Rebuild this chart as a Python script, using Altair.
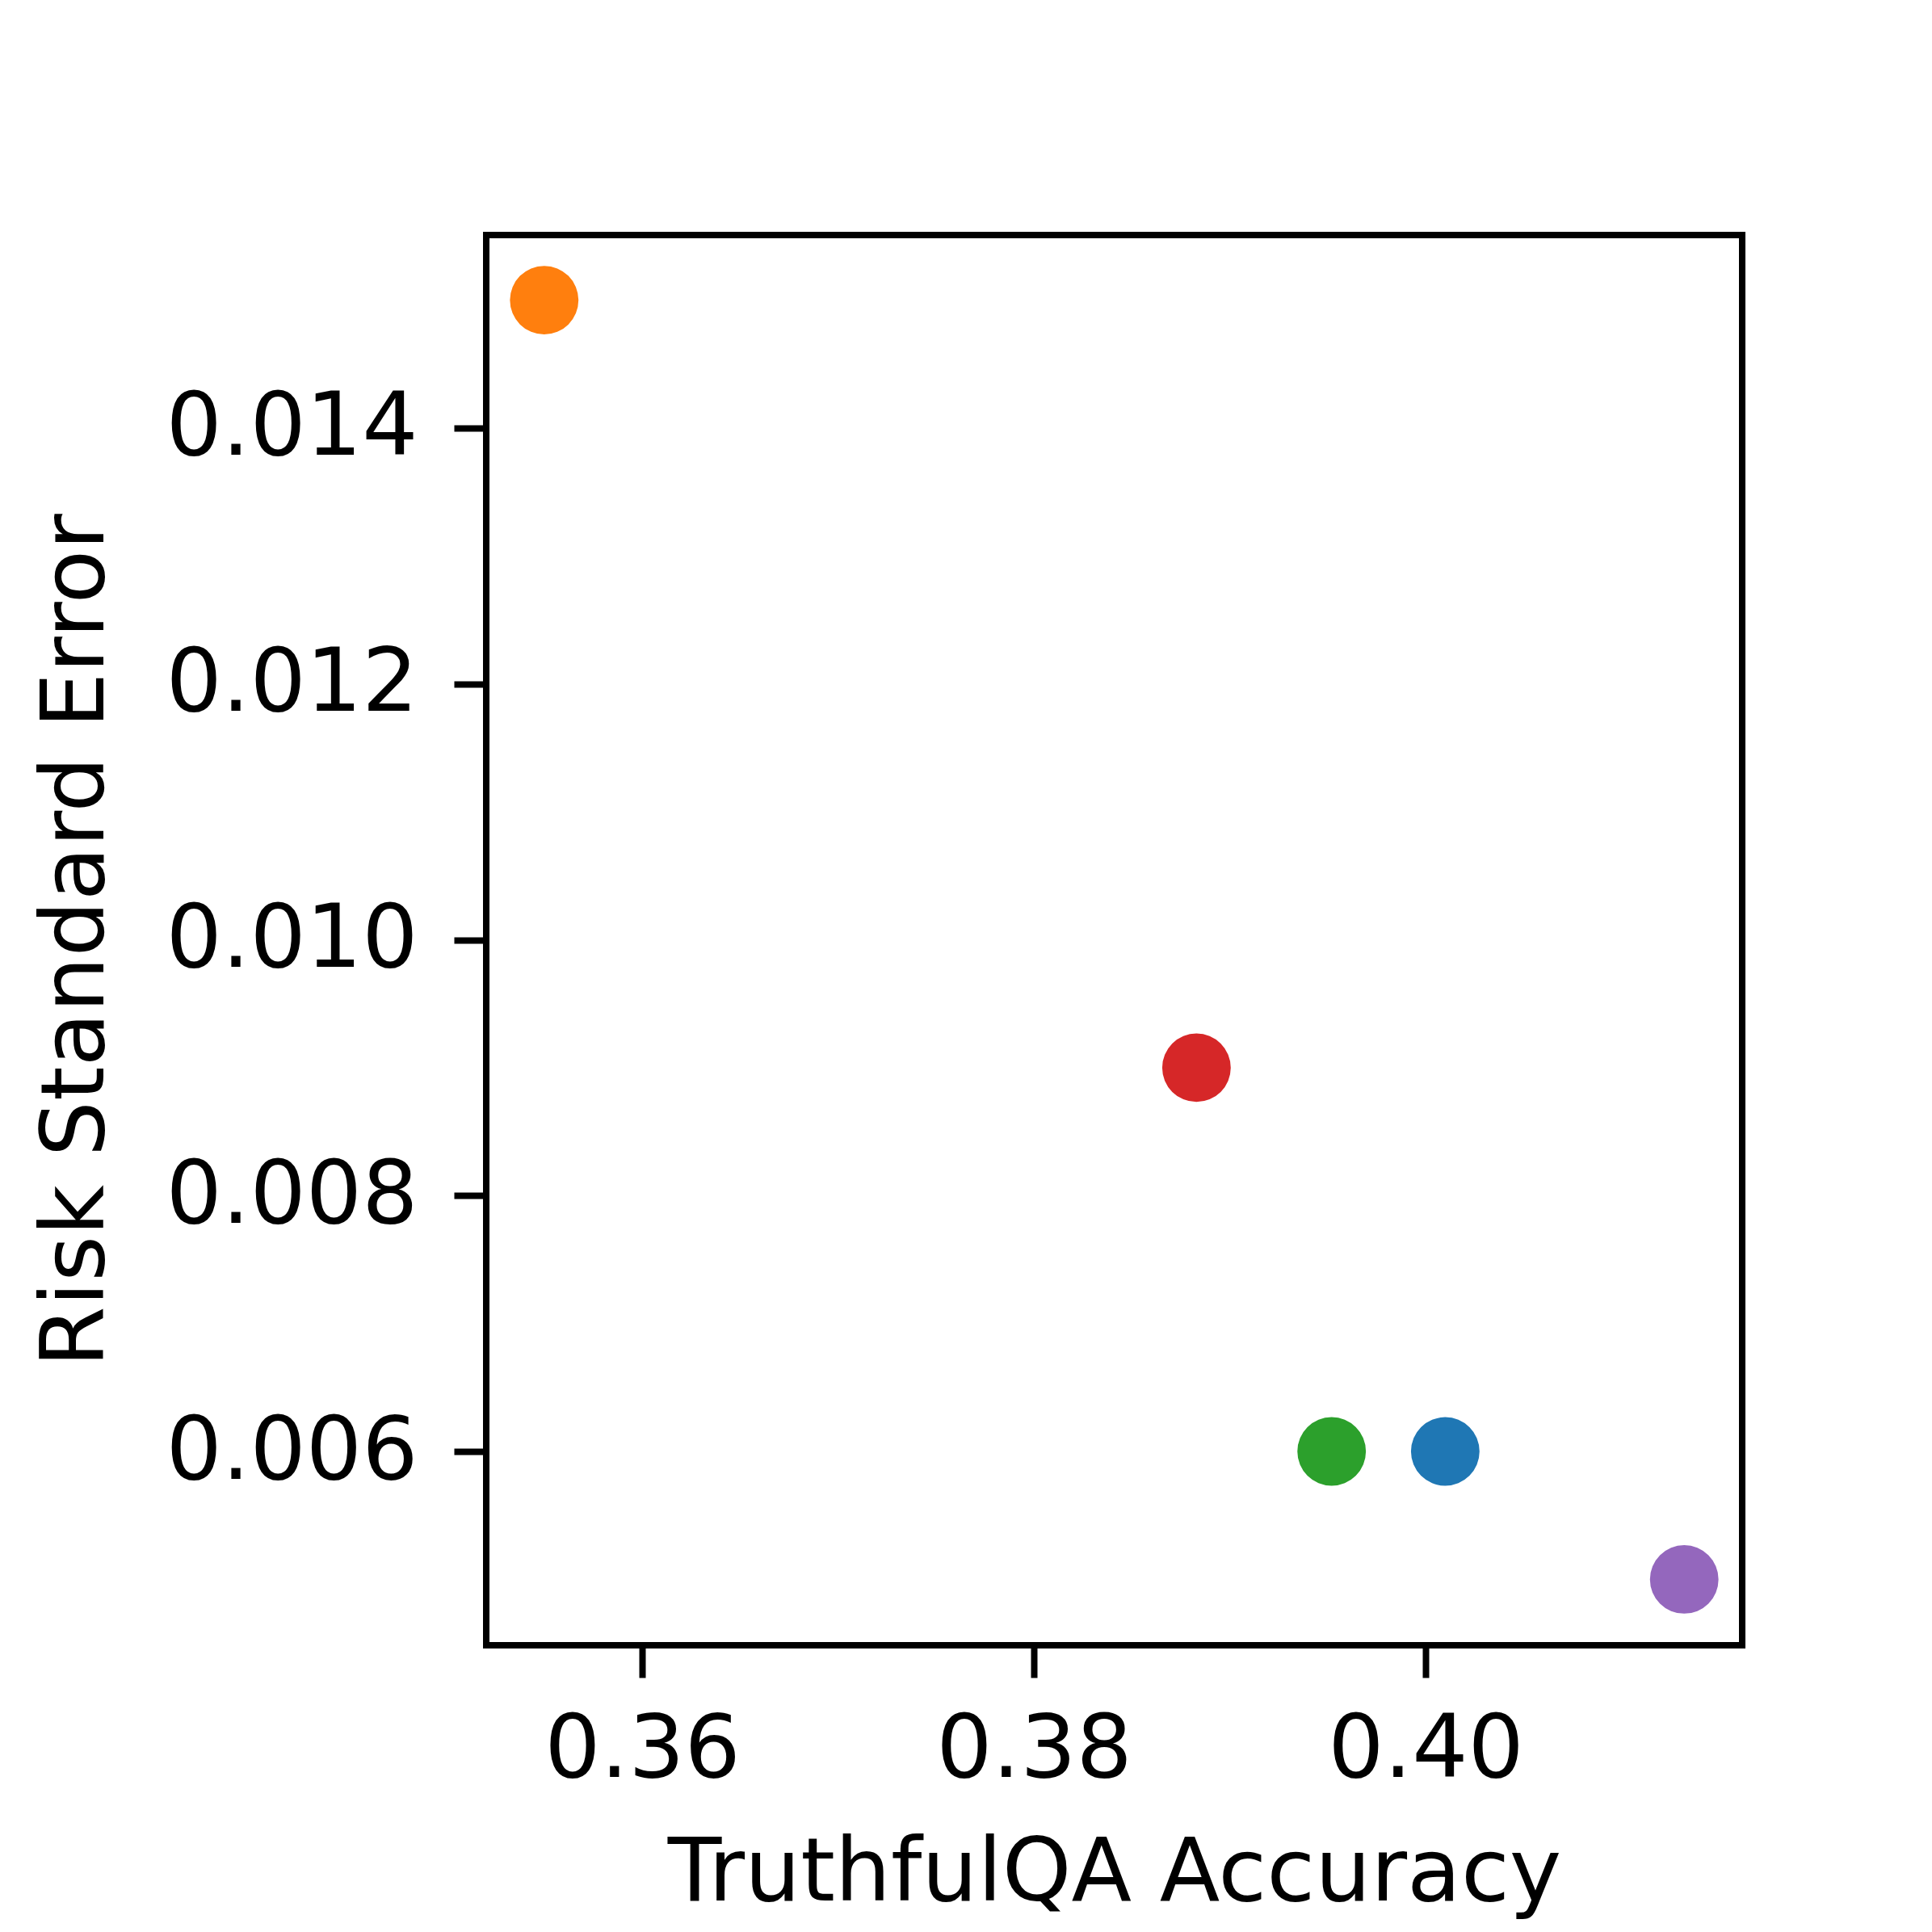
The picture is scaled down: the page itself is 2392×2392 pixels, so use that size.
import altair as alt
import pandas as pd

# Data
series = ["A", "B", "C", "D", "E"]
accuracy = [0.401, 0.355, 0.3952, 0.3883, 0.4132]
risk_se = [0.006, 0.015, 0.006, 0.009, 0.005]
colors = ["#1f77b4", "#ff7f0e", "#2ca02c", "#d62728", "#9467bd"]
x_ticks = [0.36, 0.38, 0.40]
y_ticks = [0.006, 0.008, 0.010, 0.012, 0.014]

df = pd.DataFrame({"series": series, "acc": accuracy, "se": risk_se})

W, H = 1555, 1746
FONT = "DejaVu Sans"
FS = 109

chart = alt.Chart(df).mark_circle(size=7200, opacity=1).encode(
    x=alt.X(
        "acc:Q",
        scale=alt.Scale(domain=[0.35204, 0.41616], nice=False, zero=False),
        axis=alt.Axis(
            title="TruthfulQA Accuracy",
            values=x_ticks,
            format=".2f",
            grid=False,
            domain=False,
            ticks=True,
            tickSize=40,
            tickWidth=8,
            tickColor="black",
            labelFont=FONT,
            labelFontSize=FS,
            labelColor="black",
            labelBaseline="alphabetic",
            labelPadding=122,
            labelFlush=False,
            labelOverlap=False,
            labelLimit=2000,
            titleFont=FONT,
            titleFontSize=FS,
            titleFontWeight="normal",
            titleColor="black",
            titleBaseline="alphabetic",
            titleAlign="center",
            titleLimit=3000,
            titleX=W / 2,
            titleY=315,
        ),
    ),
    y=alt.Y(
        "se:Q",
        scale=alt.Scale(domain=[0.004485, 0.015509], nice=False, zero=False),
        axis=alt.Axis(
            title="Risk Standard Error",
            values=y_ticks,
            format=".3f",
            grid=False,
            domain=False,
            ticks=True,
            tickSize=40,
            tickWidth=8,
            tickColor="black",
            labelFont=FONT,
            labelFontSize=FS,
            labelColor="black",
            labelAlign="right",
            labelBaseline="middle",
            labelPadding=45,
            labelFlush=False,
            labelOverlap=False,
            labelLimit=2000,
            titleFont=FONT,
            titleFontSize=FS,
            titleFontWeight="normal",
            titleColor="black",
            titleBaseline="alphabetic",
            titleAlign="center",
            titleAngle=270,
            titleLimit=3000,
            titleX=-475,
            titleY=H / 2,
        ),
    ),
    color=alt.Color(
        "series:N",
        scale=alt.Scale(domain=series, range=colors),
        legend=None,
    ),
).properties(
    width=W,
    height=H,
    autosize=alt.AutoSizeParams(type="none"),
    padding={"left": 594, "top": 283, "right": 200, "bottom": 340},
).configure_view(
    stroke="black",
    strokeWidth=8,
)

chart.save("out.html", embed_options={"renderer": "svg", "actions": False})
